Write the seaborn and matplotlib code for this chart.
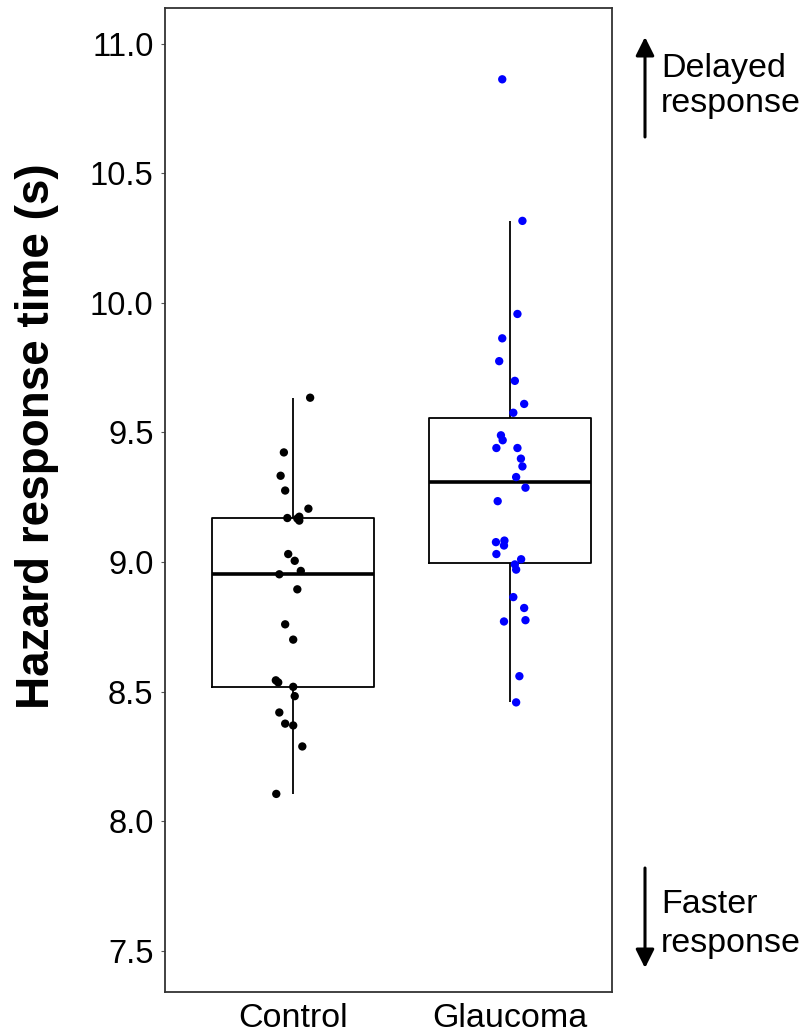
import numpy as np
import pandas as pd
import matplotlib
matplotlib.use("Agg")
import matplotlib.pyplot as plt
import seaborn as sns

groups = ["Control", "Glaucoma"]

control_times = [9.634, 9.423, 9.333, 9.276, 9.206, 9.170, 9.168, 9.160, 9.031,
                 9.005, 8.966, 8.953, 8.895, 8.760, 8.701, 8.544, 8.536, 8.519,
                 8.483, 8.420, 8.377, 8.370, 8.289, 8.106, 9.175]
control_jitter = [0.079, -0.042, -0.057, -0.036, 0.071, -0.026, 0.020, 0.029, -0.022,
                  0.008, 0.036, -0.063, 0.020, -0.036, 0.001, -0.079, -0.068, 0.001,
                  0.008, -0.063, -0.036, 0.001, 0.043, -0.077, 0.029]

glaucoma_times = [10.862, 10.316, 9.957, 9.863, 9.775, 9.699, 9.610, 9.576, 9.489,
                  9.470, 9.440, 9.440, 9.399, 9.369, 9.328, 9.287, 9.235, 9.077,
                  9.083, 9.064, 9.031, 9.011, 8.991, 8.971, 8.865, 8.823, 8.771,
                  8.776, 8.560, 8.459]
glaucoma_jitter = [-0.036, 0.057, 0.034, -0.036, -0.050, 0.022, 0.065, 0.015, -0.042,
                   -0.034, -0.063, 0.034, 0.050, 0.057, 0.028, 0.071, -0.057, -0.065,
                   -0.026, -0.028, -0.063, 0.051, 0.022, 0.028, 0.015, 0.065, -0.028,
                   0.071, 0.043, 0.028]

point_colors = {"Control": "#000000", "Glaucoma": "#0000FF"}

df = pd.DataFrame({
    "group": ["Control"] * len(control_times) + ["Glaucoma"] * len(glaucoma_times),
    "time": control_times + glaucoma_times,
    "jitter": control_jitter + glaucoma_jitter,
})
df["xpos"] = df["group"].map({g: i for i, g in enumerate(groups)}) + df["jitter"]

sns.set_style("white")
plt.rcParams["font.family"] = ["Liberation Sans", "DejaVu Sans"]
plt.rcParams["text.color"] = "black"
plt.rcParams["axes.labelcolor"] = "black"
plt.rcParams["xtick.color"] = "black"
plt.rcParams["ytick.color"] = "black"

fig = plt.figure(figsize=(8.09, 10.34), dpi=100)
ax = fig.add_axes([164.7 / 809, 42 / 1034, 447.6 / 809, 984 / 1034])

sns.boxplot(data=df, x="group", y="time", order=groups, width=0.75, whis=1.5,
            showfliers=False, showcaps=False, fill=False, color="black",
            linewidth=1.3, medianprops={"linewidth": 2.6, "color": "black"},
            ax=ax)

sns.scatterplot(data=df, x="xpos", y="time", hue="group", palette=point_colors,
                s=36, edgecolor="none", legend=False, ax=ax, zorder=3)

ax.set_xlim(-0.591, 1.471)
ax.set_ylim(7.342, 11.137)
ax.set_yticks([7.5, 8.0, 8.5, 9.0, 9.5, 10.0, 10.5, 11.0])
ax.set_yticklabels(["7.5", "8.0", "8.5", "9.0", "9.5", "10.0", "10.5", "11.0"])
ax.set_xticks([0, 1])
ax.set_xticklabels(groups)
ax.tick_params(axis="y", labelsize=23.5, length=3, width=0.8, color="#555555",
               labelcolor="black", pad=5, left=True)
ax.tick_params(axis="x", labelsize=24.5, length=0, pad=8, labelcolor="black")
for sp in ax.spines.values():
    sp.set_color("#333333")
    sp.set_linewidth(1.3)

ax.set_xlabel("")
ax.set_ylabel("Hazard response time (s)", fontsize=33, fontweight="bold", color="black")
ax.yaxis.label.set_verticalalignment("center")
ax.yaxis.set_label_coords((37 - 164.7) / 447.6, 0.565)

H = 1034
arrow = dict(arrowstyle="-|>", lw=2.2, color="black", mutation_scale=28,
             shrinkA=0, shrinkB=0)
fig.add_artist(plt.Annotation("", xy=(645, H - 37), xytext=(645, H - 137),
                              xycoords="figure pixels", textcoords="figure pixels",
                              arrowprops=arrow))
fig.add_artist(plt.Annotation("", xy=(645, H - 968), xytext=(645, H - 868),
                              xycoords="figure pixels", textcoords="figure pixels",
                              arrowprops=arrow))

fig.text(661 / 809, (H - 77) / H, "Delayed", fontsize=24.5, va="baseline")
fig.text(661 / 809, (H - 112) / H, "response", fontsize=24.5, va="baseline")
fig.text(661 / 809, (H - 913) / H, "Faster", fontsize=24.5, va="baseline")
fig.text(661 / 809, (H - 952) / H, "response", fontsize=24.5, va="baseline")

fig.savefig("out.png", dpi=100)
